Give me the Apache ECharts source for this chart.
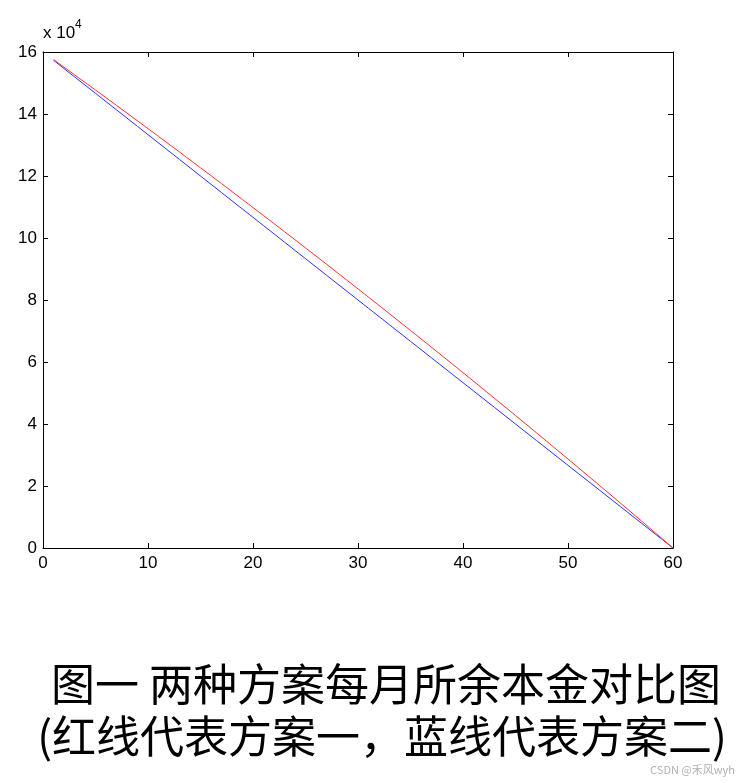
<!DOCTYPE html>
<html>
<head>
<meta charset="utf-8">
<script src="https://cdn.jsdelivr.net/npm/echarts@6/dist/echarts.min.js"></script>
<style>
  html, body { margin: 0; padding: 0; background: #fff; }
  #chart { width: 742px; height: 783px; }
</style>
</head>
<body>
<div id="chart"></div>
<script>
// Month index 1..60
const months = [1,2,3,4,5,6,7,8,9,10,11,12,13,14,15,16,17,18,19,20,
  21,22,23,24,25,26,27,28,29,30,31,32,33,34,35,36,37,38,39,40,
  41,42,43,44,45,46,47,48,49,50,51,52,53,54,55,56,57,58,59,60];

// Remaining principal, scheme 1 (red)
const scheme1 = [157562,155117,152664,150205,147737,145263,142781,140291,137794,135290,
  132778,130258,127731,125196,122654,120104,117546,114981,112408,109828,
  107239,104643,102039,99428,96808,94181,91545,88902,86251,83592,
  80925,78250,75566,72875,70176,67469,64753,62030,59298,56558,
  53810,51053,48288,45515,42734,39944,37146,34340,31525,28702,
  25870,23030,20181,17324,14458,11583,8700,5808,2908,0];

// Remaining principal, scheme 2 (blue)
const scheme2 = [157333,154667,152000,149333,146667,144000,141333,138667,136000,133333,
  130667,128000,125333,122667,120000,117333,114667,112000,109333,106667,
  104000,101333,98667,96000,93333,90667,88000,85333,82667,80000,
  77333,74667,72000,69333,66667,64000,61333,58667,56000,53333,
  50667,48000,45333,42667,40000,37333,34667,32000,29333,26667,
  24000,21333,18667,16000,13333,10667,8000,5333,2667,0];

// Axis ranges and ticks
const xTicks = [0, 10, 20, 30, 40, 50, 60];
const yTicks = [0, 2, 4, 6, 8, 10, 12, 14, 16]; // in units of 10^4
const yScale = 10000;

const captionLine1 = '图一 两种方案每月所余本金对比图';
const captionLine2 = '(红线代表方案一，蓝线代表方案二)';
const watermark = 'CSDN @禾风wyh';

const labelFont = { fontFamily: '"Liberation Sans", Arial, sans-serif', fontSize: 17, color: '#000' };

function pairs(xs, ys) { return xs.map((x, i) => [x, ys[i]]); }

const baseX = {
  type: 'value', min: xTicks[0], max: xTicks[xTicks.length - 1], interval: xTicks[1] - xTicks[0],
  splitLine: { show: false },
  axisLine: { show: true, onZero: false, lineStyle: { color: '#000', width: 1 } },
  axisTick: { show: true, inside: true, length: 5, lineStyle: { color: '#000' } }
};
const baseY = {
  type: 'value', min: yTicks[0] * yScale, max: yTicks[yTicks.length - 1] * yScale,
  interval: (yTicks[1] - yTicks[0]) * yScale,
  splitLine: { show: false },
  axisLine: { show: true, onZero: false, lineStyle: { color: '#000', width: 1 } },
  axisTick: { show: true, inside: true, length: 5, lineStyle: { color: '#000' } }
};

const chart = echarts.init(document.getElementById('chart'), null, { renderer: 'canvas' });
chart.setOption({
  animation: false,
  backgroundColor: '#fff',
  grid: { left: 43, right: 69, top: 52, bottom: 235, containLabel: false },
  xAxis: [
    Object.assign({}, baseX, { position: 'bottom',
      axisLabel: Object.assign({ margin: 7 }, labelFont) }),
    Object.assign({}, baseX, { position: 'top', axisLabel: { show: false } })
  ],
  yAxis: [
    Object.assign({}, baseY, { position: 'left',
      axisLabel: Object.assign({ margin: 6, formatter: v => String(v / yScale) }, labelFont) }),
    Object.assign({}, baseY, { position: 'right', axisLabel: { show: false } })
  ],
  series: [
    { type: 'line', name: '方案一', xAxisIndex: 0, yAxisIndex: 0, data: pairs(months, scheme1),
      showSymbol: false, lineStyle: { color: '#ff3030', width: 1 }, z: 3 },
    { type: 'line', name: '方案二', xAxisIndex: 0, yAxisIndex: 0, data: pairs(months, scheme2),
      showSymbol: false, lineStyle: { color: '#3030ff', width: 1 }, z: 2 }
  ],
  graphic: [
    { type: 'text', left: 43, top: 25,
      style: { text: 'x 10', font: '17px "Liberation Sans", Arial, sans-serif', fill: '#000' } },
    { type: 'text', left: 75, top: 19,
      style: { text: '4', font: '12px "Liberation Sans", Arial, sans-serif', fill: '#000' } },
    { type: 'text', x: 386, y: 662,
      style: { text: captionLine1, font: '44px "Noto Sans CJK SC", sans-serif', fill: '#000',
        textAlign: 'center', textVerticalAlign: 'top' } },
    { type: 'text', x: 382, y: 714,
      style: { text: captionLine2, font: '44px "Noto Sans CJK SC", sans-serif', fill: '#000',
        textAlign: 'center', textVerticalAlign: 'top' } },
    { type: 'text', x: 735, y: 764,
      style: { text: watermark, font: '11px "Noto Sans CJK SC", sans-serif', fill: '#b0b0b0',
        textAlign: 'right', textVerticalAlign: 'top' } }
  ]
});
</script>
</body>
</html>
